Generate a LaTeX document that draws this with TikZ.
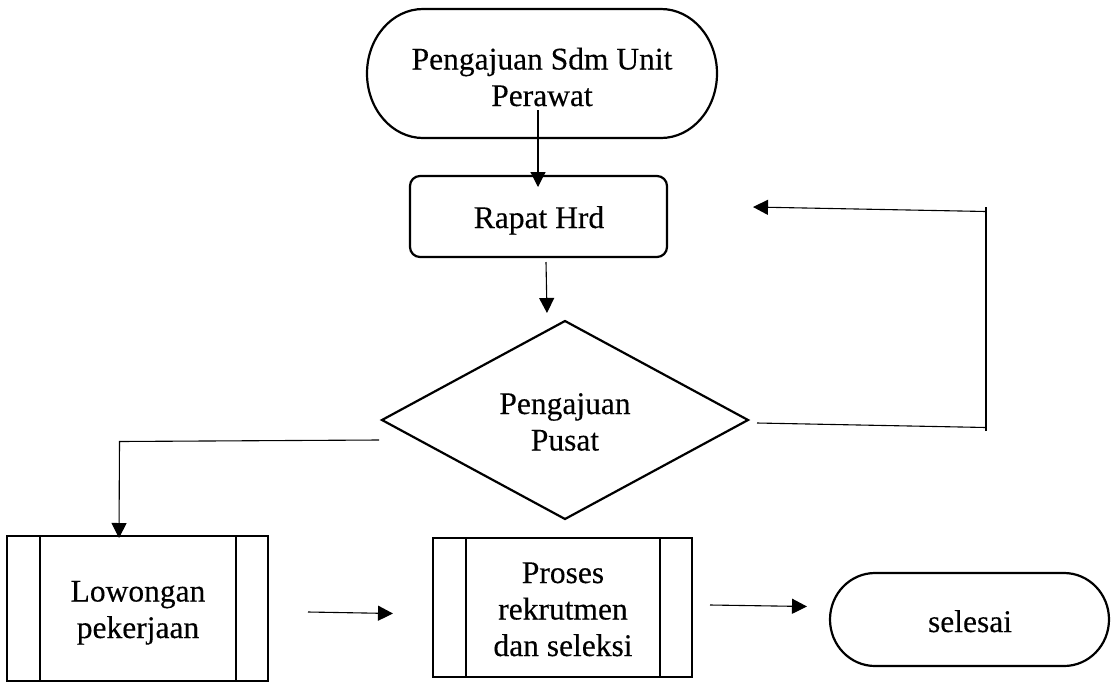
\documentclass[tikz,border=0pt]{standalone}
\usepackage{fontspec}
\setmainfont{Liberation Serif}[FakeBold=0.3]
\usetikzlibrary{arrows.meta,shapes.geometric}
\begin{document}
\begin{tikzpicture}[x=1pt,y=-1pt,
  shp/.style={draw, line width=2.2pt},
  frame/.style={inner sep=0pt, outer sep=0pt},
  conn/.style={line width=1.1pt},
  arr/.style={conn, -{Triangle[length=15pt,width=15pt]}},
  txt/.style={font=\fontsize{31.5}{36.5}\selectfont, align=center, inner sep=0pt, anchor=base}]
\useasboundingbox (0,0) rectangle (1112,686);

% start terminator
\node[frame, minimum width=350pt, minimum height=129pt] (start) at (542,73.5) {};
\draw[shp] ([xshift=56pt]start.north west) -- ([xshift=-56pt]start.north east)
  arc[start angle=-90,end angle=90,x radius=56,y radius=64.5]
  -- ([xshift=56pt]start.south west)
  arc[start angle=90,end angle=270,x radius=56,y radius=64.5] -- cycle;
\node[txt] (startT) at (542,106) {Pengajuan Sdm Unit\\Perawat};

% Rapat Hrd
\node[shp, frame, rounded corners=10pt, minimum width=257pt, minimum height=81pt] (rapat) at (538.5,216.5) {};
\node[txt] (rapatT) at (539,228) {Rapat Hrd};

% decision
\node[shp, frame, diamond, minimum width=366pt, minimum height=198pt] (dec) at (565,420) {};
\node[txt] (decT) at (565,450.5) {Pengajuan\\Pusat};

% Lowongan pekerjaan
\node[shp, frame, minimum width=261pt, minimum height=145pt] (low) at (137.5,608.5) {};
\draw[shp] ([xshift=33pt]low.north west) -- ([xshift=33pt]low.south west);
\draw[shp] ([xshift=-32pt]low.north east) -- ([xshift=-32pt]low.south east);
\node[txt] (lowT) at (138,638) {Lowongan\\pekerjaan};

% Proses rekrutmen
\node[shp, frame, minimum width=259pt, minimum height=139pt] (pro) at (562.5,607.5) {};
\draw[shp] ([xshift=33pt]pro.north west) -- ([xshift=33pt]pro.south west);
\draw[shp] ([xshift=-32pt]pro.north east) -- ([xshift=-32pt]pro.south east);
\node[txt] (proT) at (563,656) {Proses\\rekrutmen\\dan seleksi};

% selesai terminator
\node[frame, minimum width=279pt, minimum height=93pt] (end) at (969.5,619.5) {};
\draw[shp] ([xshift=45pt]end.north west) -- ([xshift=-45pt]end.north east)
  arc[start angle=-90,end angle=90,x radius=45,y radius=46.5]
  -- ([xshift=45pt]end.south west)
  arc[start angle=90,end angle=270,x radius=45,y radius=46.5] -- cycle;
\node[txt] (endT) at (970,632) {selesai};

% connectors
\coordinate (a1s) at (538,110);   \coordinate (a1e) at (538,187);
\draw[arr] (a1s) -- (a1e);
\coordinate (a2s) at (546,262);   \coordinate (a2e) at (547,313);
\draw[arr] (a2s) -- (a2e);

\coordinate (l0) at (379,440);  \coordinate (l1) at (119.5,441.5);  \coordinate (l2) at (119,538);
\draw[arr] (l0) -- (l1) -- (l2);

\coordinate (r0) at (757,423);  \coordinate (r1) at (986,427.5);
\coordinate (rt) at (986,207);  \coordinate (rb) at (986,431);
\coordinate (r2) at (986,211.5); \coordinate (r3) at (753,207);
\draw[conn] (r0) -- (r1);
\draw[conn] (rb) -- (rt);
\draw[arr] (r2) -- (r3);

\coordinate (a3s) at (308,612);  \coordinate (a3e) at (393,613.5);
\draw[arr] (a3s) -- (a3e);
\coordinate (a4s) at (710,605);  \coordinate (a4e) at (807,606.5);
\draw[arr] (a4s) -- (a4e);
\end{tikzpicture}
\end{document}
